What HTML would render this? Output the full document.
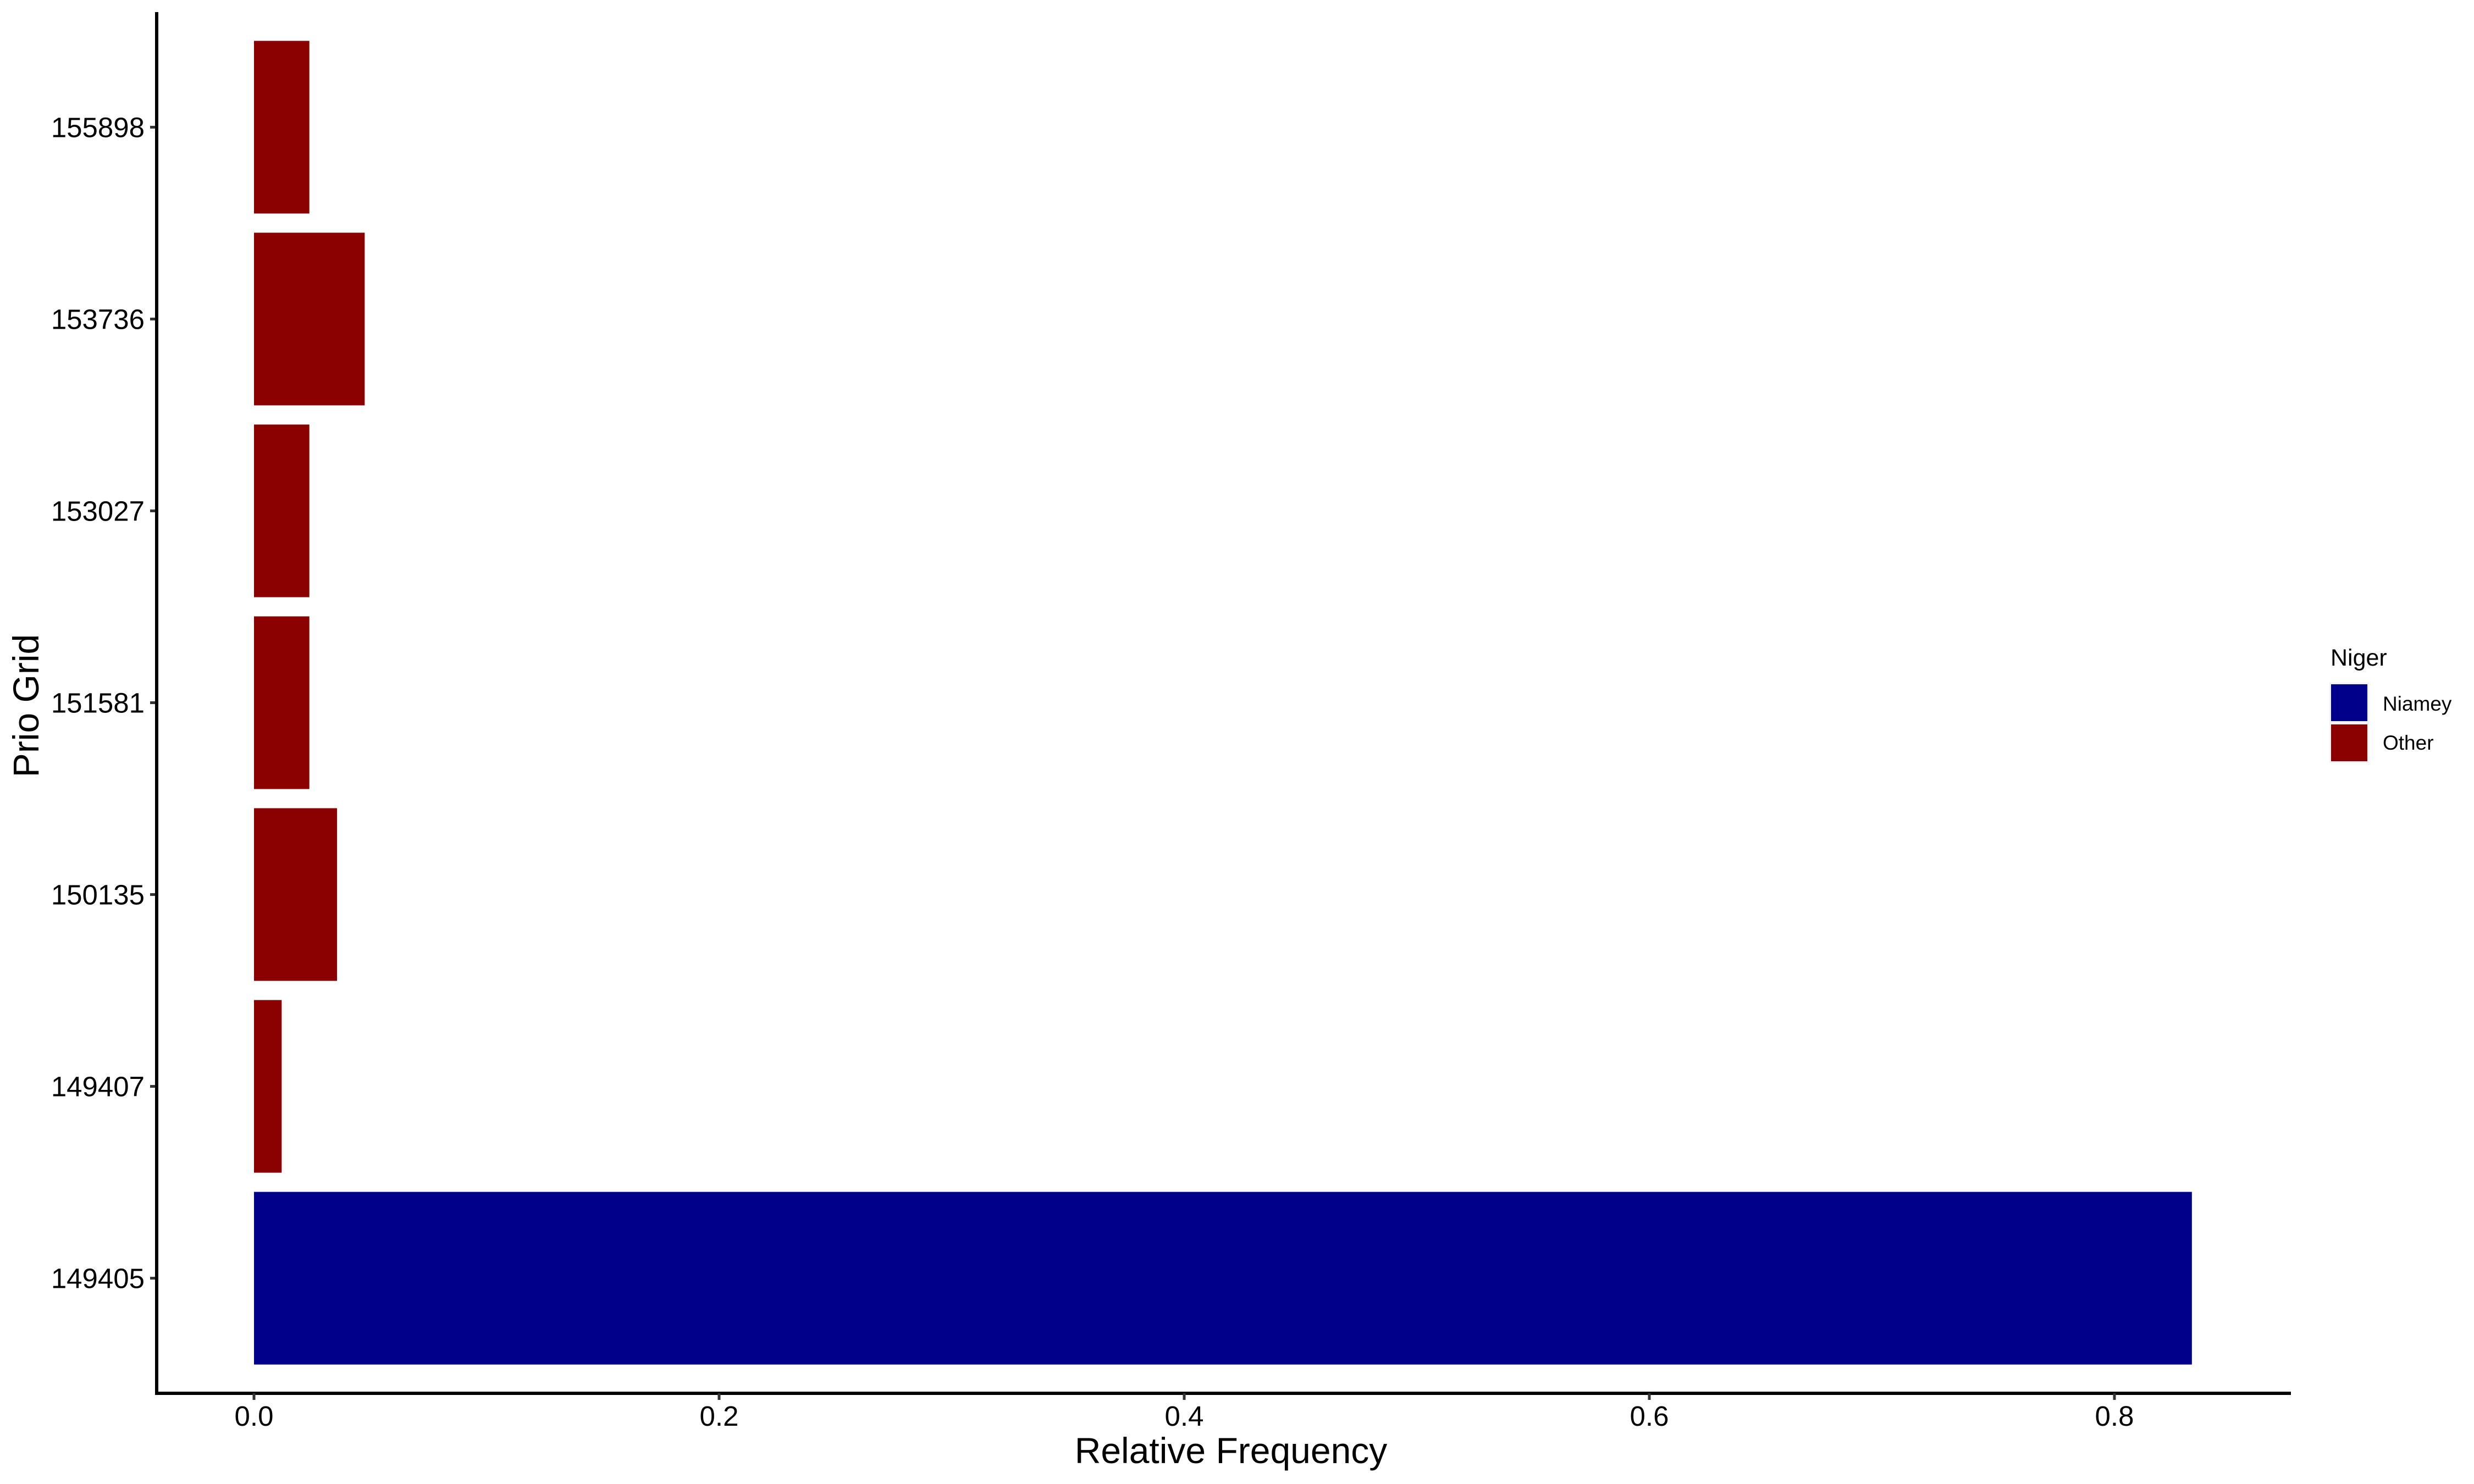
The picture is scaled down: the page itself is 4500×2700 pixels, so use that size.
<!DOCTYPE html>
<html><head><meta charset="utf-8"><style>
html,body{margin:0;padding:0;background:#fff;}
svg{display:block;font-family:"Liberation Sans",Arial,sans-serif;}
</style></head><body>
<svg id="chart" width="4500" height="2700" viewBox="0 0 4500 2700" xmlns="http://www.w3.org/2000/svg">
<rect x="0" y="0" width="4500" height="2700" fill="#fff"/>
<g id="bars"></g>
<g id="yaxis"></g>
<g id="xaxis"></g>
<text x="2239" y="2662" font-size="66" text-anchor="middle">Relative Frequency</text>
<text x="0" y="0" font-size="66" text-anchor="middle" transform="translate(70,1284) rotate(-90)">Prio Grid</text>
<g>
<text x="4239" y="1211" font-size="43">Niger</text>
<rect x="4237" y="1242" width="72" height="146" fill="#f2f2f2"/>
<rect x="4240" y="1245" width="66" height="67" fill="#00008B"/>
<rect x="4240" y="1318" width="66" height="67" fill="#8B0000"/>
<text x="4334" y="1293" font-size="37">Niamey</text>
<text x="4334" y="1364" font-size="37">Other</text>
</g>
</svg>
<script>
const categories = ["149405","149407","150135","151581","153027","153736","155898"];
const values = [0.8333,0.0119,0.0357,0.0238,0.0238,0.0476,0.0238];
const groups = ["Niamey","Other","Other","Other","Other","Other","Other"];
const xTicks = [0.0,0.2,0.4,0.6,0.8];
const xTickLabels = ["0.0","0.2","0.4","0.6","0.8"];

const NS = "http://www.w3.org/2000/svg";
const colors = {Niamey:"#00008B", Other:"#8B0000"};
const panelL = 285, panelR = 4167, panelT = 22, panelB = 2535;
const x0 = 462, xUnit = 4230;
function xScale(v){ return x0 + v * xUnit; }
const step = (panelB - panelT) / (categories.length + 0.2);
function yScale(i){ return panelB - (0.6 + i) * step; }
function mk(tag, attrs, parent){
  const el = document.createElementNS(NS, tag);
  for (const k in attrs) el.setAttribute(k, attrs[k]);
  parent.appendChild(el);
  return el;
}
const barsG = document.getElementById('bars');
const yG = document.getElementById('yaxis');
const xG = document.getElementById('xaxis');
const bh = step * 0.9;
categories.forEach((c, i) => {
  const yc = yScale(i);
  const r = mk('rect', {x: xScale(0), y: yc - bh/2, width: xScale(values[i]) - xScale(0), height: bh, fill: colors[groups[i]]}, barsG);
  
  
  const t = mk('line', {x1: 273, x2: panelL, y1: yc, y2: yc, stroke: '#333', 'stroke-width': 5}, yG);
  
  
  const l = mk('text', {x: 263, y: yc + 18, 'font-size': 51, 'text-anchor': 'end', fill: '#000'}, yG);
  l.textContent = c;
  
  
});
const yl = mk('line', {x1: panelL, x2: panelL, y1: panelT, y2: panelB + 3, stroke: '#000', 'stroke-width': 6}, yG);


const xl = mk('line', {x1: panelL - 3, x2: panelR, y1: panelB, y2: panelB, stroke: '#000', 'stroke-width': 6}, xG);


xTicks.forEach((v, i) => {
  const x = xScale(v);
  const t = mk('line', {x1: x, x2: x, y1: panelB, y2: panelB + 12, stroke: '#333', 'stroke-width': 5}, xG);
  
  
  const l = mk('text', {x: x, y: 2594, 'font-size': 51, 'text-anchor': 'middle', fill: '#000'}, xG);
  l.textContent = xTickLabels[i];
  
  
});
</script>
</body></html>
